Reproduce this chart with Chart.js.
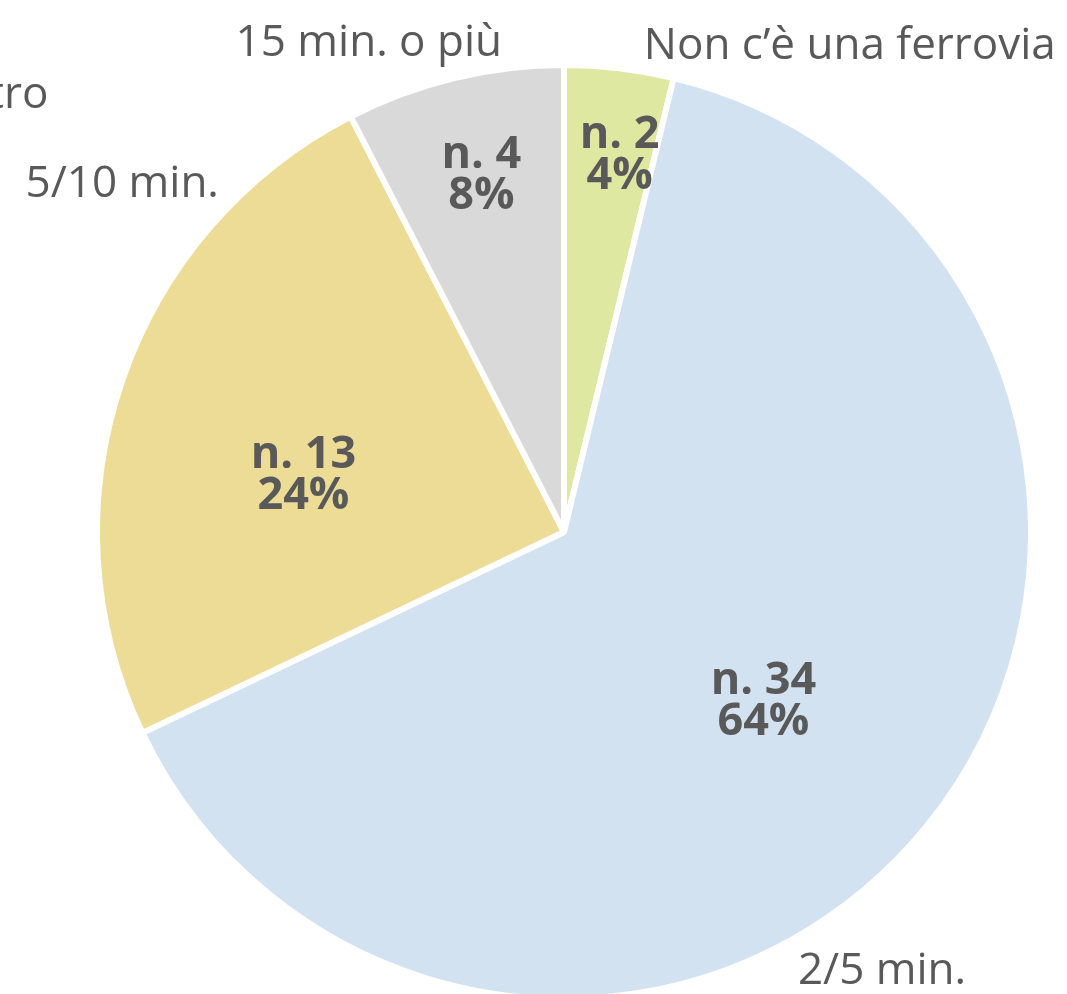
<!DOCTYPE html>
<html>
<head>
<meta charset="utf-8">
<script src="https://cdn.jsdelivr.net/npm/chart.js@4"></script>
<style>
  html, body { margin: 0; padding: 0; background: #fff; overflow: hidden; }
  canvas { display: block; }
</style>
</head>
<body>
<canvas id="myPie" width="1067" height="1100"></canvas>
<script>
// data
var categories = ['Non c\u2019\u00e8 una ferrovia', '2/5 min.', '5/10 min.', '15 min. o pi\u00f9', 'Altro'];
var counts = [2, 34, 13, 4, 0];
var percents = [4, 64, 24, 8, 0];
var colors = ['#dfe8a1', '#d3e2f1', '#ecdc96', '#d9d9d9', '#cccccc'];

// label placement relative to the centre, in radii
var nameOffsets = [[0.612, -1.04], [0.681, 0.94], [-0.946, -0.745], [-0.418, -1.047], [-1.21, -0.935]];
var valueOffsets = [[0.119, -0.806], [0.427, 0.362], [-0.558, -0.121], [-0.177, -0.763], [0, 0]];

var textColor = '#595959';
var fontFam = '"Open Sans", "Noto Sans", sans-serif';

var pieLabels = {
    id: 'pieLabels',
    afterDatasetsDraw: function(chart) {
        var ctx = chart.ctx;
        var meta = chart.getDatasetMeta(0);
        ctx.save();
        ctx.fillStyle = textColor;
        ctx.textBaseline = 'middle';
        ctx.textAlign = 'center';
        meta.data.forEach(function(arc, i) {
            var p = arc.getProps(['x', 'y', 'outerRadius'], true);
            var R = p.outerRadius;
            // inner count / percent
            if (counts[i] > 0) {
                var lx = p.x + valueOffsets[i][0] * R;
                var ly = p.y + valueOffsets[i][1] * R;
                ctx.font = 'bold 45px ' + fontFam;
                ctx.fillText('n. ' + counts[i], lx, ly - 20);
                ctx.fillText(percents[i] + '%', lx, ly + 21);
            }
            // category name outside
            ctx.font = '44px ' + fontFam;
            ctx.fillText(categories[i], p.x + nameOffsets[i][0] * R, p.y + nameOffsets[i][1] * R);
        });
        ctx.restore();
    }
};

var ctx = document.getElementById('myPie');
var myPie = new Chart(ctx, {
    type: 'pie',
    data: {
        labels: categories,
        datasets: [{
            data: counts,
            backgroundColor: colors,
            borderColor: '#ffffff',
            borderWidth: 6
        }]
    },
    options: {
        responsive: false,
        animation: false,
        layout: {
            padding: { left: 94, right: 33, top: 62, bottom: 98 }
        },
        plugins: {
            legend: { display: false },
            tooltip: { enabled: false }
        }
    },
    plugins: [pieLabels]
});
</script>
</body>
</html>
